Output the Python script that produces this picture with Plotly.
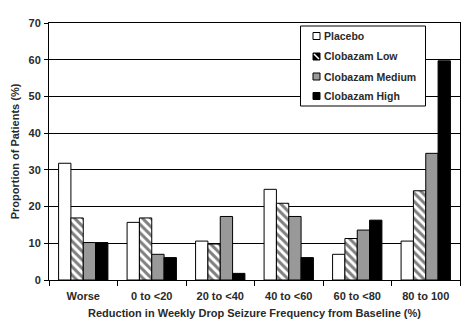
import plotly.graph_objects as go

categories = ["Worse", "0 to <20", "20 to <40", "40 to <60", "60 to <80", "80 to 100"]
placebo = [31.8, 15.7, 10.6, 24.7, 7.0, 10.6]
clob_low = [16.9, 16.9, 9.8, 20.9, 11.3, 24.3]
clob_medium = [10.2, 7.0, 17.3, 17.3, 13.6, 34.5]
clob_high = [10.2, 6.1, 1.8, 6.1, 16.3, 59.7]
series_names = ["Placebo", "Clobazam Low", "Clobazam Medium", "Clobazam High"]
y_ticks = [0, 10, 20, 30, 40, 50, 60, 70]

font = "Liberation Sans, Arial, sans-serif"
txt = "#2a2a2a"
W, H = 469, 327
ML, MR, MT, MB = 49, 9, 23, 47
PW, PH = W - ML - MR, H - MT - MB


def px(x):
    return (x - ML) / PW


def py(y):
    return (H - MB - y) / PH


fig = go.Figure()
fig.add_bar(name=series_names[0], x=categories, y=placebo,
            marker=dict(color="white", line=dict(color="black", width=1)))
fig.add_bar(name=series_names[1], x=categories, y=clob_low,
            marker=dict(color="white", line=dict(color="black", width=1),
                        pattern=dict(shape="\\", fgcolor="black", bgcolor="white",
                                     size=6, solidity=0.5)))
fig.add_bar(name=series_names[2], x=categories, y=clob_medium,
            marker=dict(color="#999999", line=dict(color="black", width=1)))
fig.add_bar(name=series_names[3], x=categories, y=clob_high,
            marker=dict(color="black", line=dict(color="black", width=1)))

# Custom legend box (matches the small-symbol legend of the original)
shapes = [dict(type="rect", xref="paper", yref="paper",
               x0=px(300.5), x1=px(425.5), y0=py(106), y1=py(26),
               fillcolor="white", line=dict(color="black", width=1), layer="above")]
annotations = []
fills = ["white", "black", "#999999", "black"]
centers = [36, 56.5, 76.5, 96]
for name, fc, cy in zip(series_names, fills, centers):
    shapes.append(dict(type="rect", xref="paper", yref="paper",
                       x0=px(313), x1=px(320), y0=py(cy + 3.5), y1=py(cy - 3.5),
                       fillcolor=fc, line=dict(color="black", width=1), layer="above"))
    annotations.append(dict(text=name, xref="paper", yref="paper",
                            x=px(321.5), y=py(cy), xanchor="left", yanchor="middle",
                            showarrow=False,
                            font=dict(family=font, size=10.5, color=txt, weight="bold")))
# light diagonal in the "Low" symbol
cy = centers[1]
shapes.append(dict(type="line", xref="paper", yref="paper",
                   x0=px(314), y0=py(cy - 2.5), x1=px(319), y1=py(cy + 2.5),
                   line=dict(color="white", width=1.5), layer="above"))

fig.update_layout(
    width=W, height=H,
    margin=dict(l=ML, r=MR, t=MT, b=MB),
    barmode="group", bargap=0.28, bargroupgap=0,
    plot_bgcolor="white", paper_bgcolor="white",
    font=dict(family=font, size=11, color=txt),
    showlegend=False,
    shapes=shapes, annotations=annotations,
    xaxis=dict(showline=True, linecolor="black", linewidth=1, mirror=True,
               ticks="outside", tickson="boundaries", ticklen=5, tickcolor="black",
               ticklabelstandoff=6,
               tickfont=dict(family=font, size=11, weight="bold", color=txt),
               title=dict(text="Reduction in Weekly Drop Seizure Frequency from Baseline (%)",
                          font=dict(family=font, size=11, weight="bold", color=txt), standoff=8)),
    yaxis=dict(range=[0, 70], tickvals=y_ticks, showline=True, linecolor="black",
               linewidth=1, mirror=True, showgrid=True, gridcolor="black", gridwidth=1,
               ticks="outside", ticklen=4, tickcolor="black", ticklabelstandoff=1,
               tickfont=dict(family=font, size=11, weight="bold", color=txt),
               title=dict(text="Proportion of Patients (%)",
                          font=dict(family=font, size=11, weight="bold", color=txt), standoff=6)),
)

fig.write_html("out.html")
